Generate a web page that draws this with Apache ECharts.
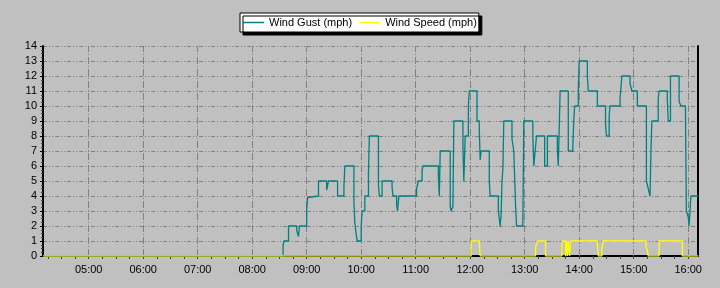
<!DOCTYPE html>
<html>
<head>
<meta charset="utf-8">
<script src="https://cdn.jsdelivr.net/npm/echarts@6/dist/echarts.min.js"></script>
<style>
html,body{margin:0;padding:0;background:#c0c0c0;}
#chart{width:720px;height:288px;}
</style>
</head>
<body>
<div id="chart"></div>
<script>
// ---- data ----
const gustTimes = ['04:10','08:34','08:35','08:40','08:49','08:51','08:52','09:00','09:01','09:02:30',
  '09:13','09:22','09:24','09:34','09:41','09:42','09:52','09:53','09:55','09:56',
  '10:00','10:01','10:04','10:08','10:09','10:19','10:20','10:23','10:34','10:35',
  '10:39','10:40','10:41:30','11:01','11:03','11:07','11:08','11:25','11:26','11:27',
  '11:38','11:39','11:41','11:42','11:52','11:53','11:54:30','11:58','11:59','12:07:30',
  '12:10','12:11','12:12','12:21','12:22','12:31','12:33','12:34','12:35','12:36',
  '12:37','12:46','12:48','12:50','12:51','12:58','12:59','13:09','13:10','13:12',
  '13:13','13:22','13:25','13:36','13:37','13:39','13:48','13:53','13:54','13:55',
  '13:59','14:00','14:09','14:10','14:20','14:29','14:30','14:33','14:34','14:45',
  '14:47','14:56','14:58','15:04','15:14','15:16','15:18','15:19','15:20','15:27',
  '15:28','15:37','15:38','15:40:30','15:50','15:52','15:57','15:58','16:00','16:01',
  '16:03','16:11'];
const gustValues = [0,0.7,1,2,1.7,1.3,2,3,3.9,4,
  5,4.4,5,4,4.6,6,3.6,2.2,1.2,1,
  2,3,4,5.5,8,4.7,4,5,4.6,4,
  3.4,3,4,4.5,5,5.7,6,5.3,4,7,
  3.3,3,3.3,9,7.2,5,8,10,11,9,
  8.4,6.4,7,5,4,3,2,2.7,5,5.8,
  9,7.8,7,3.3,2,2.4,9,8,6,7.3,
  8,6,8,7,6,11,7,7.3,9,10,
  11,13,12,11,10,8.8,8,9.4,10,10.5,
  12,11.5,11,10,5,4.5,4,7,9,10.5,
  11,10.5,9,12,10.3,10,9.6,3,2.6,2,
  4,4];
const speedTimes = ['04:10','12:01','12:10','12:11','13:12','13:14','13:23','13:41','13:41:30','13:45',
  '13:46','13:47','13:48','13:49:30','13:50:30','14:20','14:21','14:25','14:26:30','15:13:30',
  '15:15','15:16','15:28','15:53:30','16:11'];
const speedValues = [0,1,0.9,0,0.6,1,0,0.8,1,0,
  1,0,1,0,1,0.8,0,0.45,1,0.6,
  0.4,0,1,0,0];
const hourLabels = ['05:00','06:00','07:00','08:00','09:00','10:00','11:00','12:00','13:00','14:00','15:00','16:00'];
const minorTickStep = 15; // minutes
const xStart = '04:09:42';
const xEnd = '16:10:48';
const yMin = 0, yMax = 14, yStep = 1;

// ---- helpers ----
function toMin(s){ const p = s.split(':').map(Number); return p[0]*60 + p[1] + (p[2]||0)/60; }
function pad(n){ return (n<10?'0':'') + n; }
function fmt(m){ const h = Math.floor(m/60), mm = Math.round(m - h*60); return pad(h)+':'+pad(mm); }

const xMin = toMin(xStart), xMax = toMin(xEnd);
const hourVals = hourLabels.map(toMin);
const tickVals = [];
for (let m = Math.ceil(xMin/minorTickStep)*minorTickStep; m <= xMax; m += minorTickStep) tickVals.push(m);

const gustData = gustTimes.map((t,i)=>[toMin(t), gustValues[i]]);
const speedData = speedTimes.map((t,i)=>[toMin(t), speedValues[i]]);

const FONT = 'Liberation Sans, Arial, sans-serif';
const chart = echarts.init(document.getElementById('chart'), null, {renderer:'canvas'});
chart.setOption({
  animation: false,
  backgroundColor: '#c0c0c0',
  grid: {left: 43, right: 22, top: 46, bottom: 32, containLabel: false},
  legend: {
    left: 240, top: 13,
    padding: [4, 2, 4, 3],
    icon: 'rect',
    itemWidth: 21, itemHeight: 1.5, itemGap: 7,
    backgroundColor: '#ffffff', borderColor: '#000000', borderWidth: 1,
    shadowColor: '#000000', shadowOffsetX: 3, shadowOffsetY: 3, shadowBlur: 0,
    textStyle: {fontFamily: FONT, fontSize: 11, color: '#000000', lineHeight: 11},
    data: ['Wind Gust (mph)', 'Wind Speed (mph)']
  },
  xAxis: {
    type: 'value', min: xMin, max: xMax, offset: 1,
    axisLine: {show: true, lineStyle: {color: '#000', width: 2}},
    axisTick: {show: true, length: 3, customValues: tickVals, lineStyle: {color: '#404040', width: 1}},
    axisLabel: {customValues: hourVals, formatter: v => fmt(v), fontFamily: FONT, fontSize: 11, color: '#000', margin: 7},
    splitLine: {show: false},
    minorTick: {show: false}
  },
  yAxis: [{
    type: 'value', min: yMin, max: yMax, interval: yStep,
    axisLine: {show: true, lineStyle: {color: '#000', width: 2}},
    axisTick: {show: true, length: 3, lineStyle: {color: '#000'}},
    minorTick: {show: true, splitNumber: 4, length: 2, lineStyle: {color: '#404040'}},
    axisLabel: {fontFamily: FONT, fontSize: 11, color: '#000', margin: 6},
    splitLine: {show: true, lineStyle: {color: '#808080', width: 1, type: [4,2,1,2,1,2]}}
  }, {
    type: 'value', min: yMin, max: yMax, position: 'right',
    axisLine: {show: true, lineStyle: {color: '#000', width: 2}},
    axisTick: {show: false}, axisLabel: {show: false}, splitLine: {show: false}
  }],
  series: [{
    name: 'Wind Gust (mph)', type: 'line', step: 'end', symbol: 'none',
    data: gustData, z: 3,
    lineStyle: {color: '#008080', width: 1.3},
    itemStyle: {color: '#008080'},
    markLine: {
      silent: true, symbol: ['none','none'], z: 1, animation: false,
      label: {show: false},
      lineStyle: {color: '#808080', width: 1, type: [7,2,1,2]},
      emphasis: {disabled: true},
      data: hourVals.map(v => ({xAxis: v}))
    }
  }, {
    name: 'Wind Speed (mph)', type: 'line', step: 'end', symbol: 'none',
    data: speedData, z: 4,
    lineStyle: {color: '#ffff00', width: 1.3},
    itemStyle: {color: '#ffff00'}
  }]
});
</script>
</body>
</html>
